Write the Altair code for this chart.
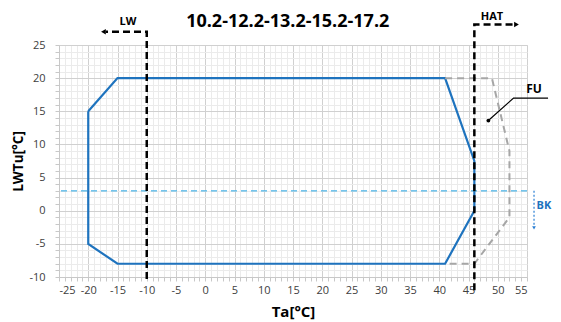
import altair as alt
import pandas as pd

# ---- data ----
blue_x = [-20, -15, 41, 46, 46, 41, -15, -20, -20]
blue_y = [15, 20, 20, 7.5, 0, -8, -8, -5, 15]

gray_x = [41, 49, 52, 52, 46, 41]
gray_y = [20, 20, 9, -1, -8, -8]

bk_level = 3.0  # light blue dashed horizontal

lw_x = [-10, -10, -17]
lw_y = [-10.3, 27, 27]
hat_x = [46, 46, 52.7]
hat_y = [-12, 28.1, 28.1]

fu_x = [48.4, 52.7, 58.6]
fu_y = [13.6, 17.0, 17.0]

bk_x = [56.2, 56.2]
bk_y = [3.0, -2.2]

title_text = "10.2-12.2-13.2-15.2-17.2"
x_ticks = list(range(-25, 56))
y_ticks = list(range(-10, 26))

FONT = "Open Sans"

def path_df(xs, ys):
    return pd.DataFrame({"x": xs, "y": ys, "o": list(range(len(xs)))})

xscale = alt.Scale(domain=[-25, 55], nice=False, zero=False)
yscale = alt.Scale(domain=[-10, 25], nice=False, zero=False)

major5 = "datum.value % 5 === 0"
grid_cond = {"condition": {"test": major5, "value": "#d0d0d0"}, "value": "#ebebeb"}
x_axis = alt.Axis(
    values=x_ticks, title="Ta[°C]",
    labelExpr=f"{major5} ? '' + datum.value : ''",
    labelOverlap=False, labelFont=FONT, labelFontSize=11, labelColor="#404040",
    labelPadding=3, tickSize=4, tickColor="#c8c8c8",
    gridColor=grid_cond, domainColor="#c8c8c8",
    titleFont=FONT, titleFontSize=15, titleFontWeight="bold", titleColor="#000000",
    titlePadding=9,
)
y_axis = alt.Axis(
    values=y_ticks, title="LWTu[°C]",
    labelExpr=f"{major5} ? '' + datum.value : ''",
    labelOverlap=False, labelFont=FONT, labelFontSize=11, labelColor="#404040",
    labelPadding=10, tickSize=4, tickColor="#c8c8c8",
    gridColor=grid_cond, domainColor="#c8c8c8",
    titleFont=FONT, titleFontSize=13.5, titleFontWeight="bold", titleColor="#000000",
    titlePadding=3,
)

X = alt.X("x:Q", scale=xscale, axis=x_axis)
Y = alt.Y("y:Q", scale=yscale, axis=y_axis)

blue = alt.Chart(path_df(blue_x, blue_y)).mark_line(
    color="#1e73be", strokeWidth=2.2
).encode(x=X, y=Y, order="o:Q")

gray = alt.Chart(path_df(gray_x, gray_y)).mark_line(
    color="#a6a6a6", strokeWidth=2, strokeDash=[7, 5]
).encode(x=X, y=Y, order="o:Q")

bk_line = alt.Chart(pd.DataFrame({"y": [bk_level]})).mark_rule(
    color="#4ab3e6", strokeWidth=1.2, strokeDash=[6, 4]
).encode(y=Y)

lw = alt.Chart(path_df(lw_x, lw_y)).mark_line(
    color="#000000", strokeWidth=2.5, strokeDash=[7, 4]
).encode(x=X, y=Y, order="o:Q")

hat = alt.Chart(path_df(hat_x, hat_y)).mark_line(
    color="#000000", strokeWidth=2.5, strokeDash=[7, 4]
).encode(x=X, y=Y, order="o:Q")

arrows = alt.Chart(pd.DataFrame({
    "x": [-17.4, 53.2], "y": [27, 28.1], "s": ["triangle-left", "triangle-right"]
})).mark_point(filled=True, color="#000000", size=30, opacity=1).encode(
    x=X, y=Y, shape=alt.Shape("s:N", scale=None, legend=None)
)

fu = alt.Chart(path_df(fu_x, fu_y)).mark_line(
    color="#000000", strokeWidth=1.2
).encode(x=X, y=Y, order="o:Q")

fu_dot = alt.Chart(pd.DataFrame({"x": [fu_x[0]], "y": [fu_y[0]]})).mark_circle(
    color="#000000", size=14, opacity=1
).encode(x=X, y=Y)

bk_arrow = alt.Chart(path_df(bk_x, bk_y)).mark_line(
    color="#2a7fd4", strokeWidth=1.2, strokeDash=[2, 2]
).encode(x=X, y=Y, order="o:Q")

bk_head = alt.Chart(pd.DataFrame({"x": [bk_x[0]], "y": [-2.6]})).mark_point(
    shape="triangle-down", filled=True, color="#2a7fd4", size=14, opacity=1
).encode(x=X, y=Y)

texts = alt.Chart(pd.DataFrame({
    "x": [14.1, -13.2, 49.0, 56.2, 57.9],
    "y": [28.5, 28.5, 29.2, 18.4, 0.7],
    "t": [title_text, "LW", "HAT", "FU", "BK"],
    "c": ["#000000", "#000000", "#000000", "#000000", "#1e73be"],
    "fs": [18, 11, 11, 12, 11],
})).mark_text(font=FONT, fontWeight="bold", baseline="middle", align="center").encode(
    x=X, y=Y, text="t:N",
    color=alt.Color("c:N", scale=None, legend=None),
    size=alt.Size("fs:Q", scale=None, legend=None),
)

chart = alt.layer(
    blue, bk_line, gray, lw, hat, arrows, fu, fu_dot, bk_arrow, bk_head, texts
).properties(
    width=468, height=232,
    autosize=alt.AutoSizeParams(type="none"),
    padding={"left": 51, "top": 37, "right": 26, "bottom": 45},
).configure_view(stroke=None).configure_axis(labelOverlap=False).configure(font=FONT)

chart.save("out.html", embed_options={"renderer": "svg", "actions": False})
